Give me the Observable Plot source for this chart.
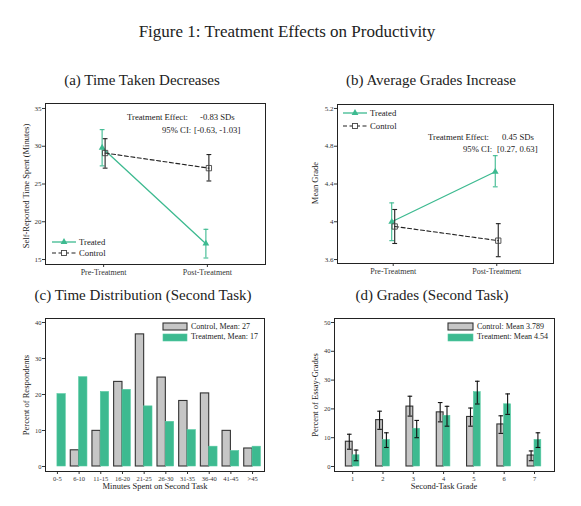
<!DOCTYPE html>
<html><head><meta charset="utf-8">
<script src="https://cdn.jsdelivr.net/npm/d3@7"></script>
<script src="https://cdn.jsdelivr.net/npm/@observablehq/plot@0.6"></script>
<style>
body{margin:0;background:#fff;}
#fig{position:relative;width:581px;height:506px;font-family:"Liberation Serif","Times New Roman",Times,serif;color:#222;overflow:hidden;background:#fff}
.abs{position:absolute;white-space:nowrap;line-height:1}
.panel{position:absolute}
</style></head><body><div id="fig"></div>
<script>
// ---------- data ----------
const phases = ["Pre-Treatment", "Post-Treatment"];

// (a) self-reported time (minutes)
const timeTreatedMean = [29.8, 17.1];
const timeTreatedLo   = [27.4, 15.2];
const timeTreatedHi   = [32.2, 19.0];
const timeControlMean = [29.1, 27.1];
const timeControlLo   = [27.1, 25.4];
const timeControlHi   = [31.0, 28.9];

// (b) mean grade
const gradeTreatedMean = [4.00, 4.53];
const gradeTreatedLo   = [3.80, 4.37];
const gradeTreatedHi   = [4.20, 4.70];
const gradeControlMean = [3.95, 3.80];
const gradeControlLo   = [3.77, 3.63];
const gradeControlHi   = [4.13, 3.98];

// (c) time distribution, second task (% of respondents)
const timeBins = ["0-5","6-10","11-15","16-20","21-25","26-30","31-35","36-40","41-45",">45"];
const distControl   = [0, 4.5, 9.9, 23.5, 36.7, 24.7, 18.2, 20.3, 9.9, 5.0];
const distTreatment = [20.1, 24.8, 20.7, 21.3, 16.7, 12.4, 10.1, 5.5, 4.3, 5.5];

// (d) grades, second task (% of essay-grades)
const gradeLevels  = [1, 2, 3, 4, 5, 6, 7];
const gradesControl     = [8.6, 16.1, 20.8, 18.8, 17.2, 14.6, 3.8];
const gradesControlLo   = [6.0, 12.9, 17.5, 15.5, 14.0, 11.5, 2.0];
const gradesControlHi   = [11.2, 19.2, 24.4, 22.2, 20.3, 17.6, 5.4];
const gradesTreatment   = [3.9, 9.2, 13.1, 17.6, 25.8, 21.6, 9.2];
const gradesTreatmentLo = [2.0, 6.6, 10.0, 14.0, 21.7, 18.1, 6.6];
const gradesTreatmentHi = [5.7, 11.7, 16.0, 20.9, 29.6, 25.2, 11.7];

const yTicksTime  = [15, 20, 25, 30, 35];
const yTicksGrade = [3.6, 4, 4.4, 4.8, 5.2];
const yTicksDist  = [0, 10, 20, 30, 40];
const yTicksEssay = [0, 10, 20, 30, 40, 50];

// ---------- styling ----------
const SERIF = '"Liberation Serif","Times New Roman",Times,serif';
const GREEN = "#3dba90";
const GREY = "#c6c6c6";
const INK = "#222";
const fig = document.getElementById("fig");

function txt(s, x, y, size, anchor = "middle", rotate = 0) {
  const el = document.createElement("div");
  el.className = "abs";
  el.textContent = s;
  el.style.left = x + "px";
  el.style.top = y + "px";
  el.style.fontSize = size + "px";
  const ax = anchor === "start" ? "0" : anchor === "end" ? "-100%" : "-50%";
  el.style.transform = `translate(${ax},-50%)` + (rotate ? ` rotate(${rotate}deg)` : "");
  fig.appendChild(el);
}
function place(node, left, top) {
  const d = document.createElement("div");
  d.className = "panel";
  d.style.left = left + "px";
  d.style.top = top + "px";
  d.appendChild(node);
  fig.appendChild(d);
}
// horizontal cap symbol for error bars (width = 2r)
const capSymbol = {draw(ctx, size) { const w = Math.sqrt(size / Math.PI); ctx.moveTo(-w, 0); ctx.lineTo(w, 0); }};

function rows(mean, lo, hi) {
  return mean.map((m, i) => ({phase: i + 1, mean: m, lo: lo[i], hi: hi[i]}));
}

function linePanel({treated, control, xDomain, yDomain, yTicks, margins}) {
  const errMarks = (data, color, dx) => [
    Plot.ruleX(data, {x: "phase", y1: "lo", y2: "hi", stroke: color, strokeWidth: 1.1, dx}),
    Plot.dot(data, {x: "phase", y: "lo", symbol: capSymbol, r: 2.4, stroke: color, fill: "none", strokeWidth: 1.1, dx}),
    Plot.dot(data, {x: "phase", y: "hi", symbol: capSymbol, r: 2.4, stroke: color, fill: "none", strokeWidth: 1.1, dx})
  ];
  return Plot.plot({
    width: 290, height: 190,
    ...margins,
    x: {domain: xDomain},
    y: {domain: yDomain},
    style: {fontFamily: SERIF, fontSize: "7px", color: "#333", background: "transparent", overflow: "visible"},
    marks: [
      Plot.axisY({ticks: yTicks, tickFormat: d => String(d), tickSize: 3, tickPadding: 1, label: null, fontSize: 7}),
      Plot.axisX({ticks: [1, 2], tickFormat: i => phases[i - 1], tickSize: 3, tickPadding: 1.5, label: null, fontSize: 8}),
      Plot.line(treated, {x: "phase", y: "mean", stroke: GREEN, strokeWidth: 1.3, dx: -1.5}),
      ...errMarks(treated, GREEN, -1.5),
      Plot.dot(treated, {x: "phase", y: "mean", symbol: "triangle", r: 2.5, fill: GREEN, stroke: "none", dx: -1.5}),
      Plot.line(control, {x: "phase", y: "mean", stroke: INK, strokeWidth: 1.1, strokeDasharray: "4,2.5", dx: 1.5}),
      ...errMarks(control, INK, 1.5),
      Plot.dot(control, {x: "phase", y: "mean", symbol: "square", r: 3, fill: "none", stroke: "#444", strokeWidth: 0.9, dx: 1.5}),
      Plot.frame({stroke: INK, strokeWidth: 1})
    ]
  });
}

// ---------- titles ----------
txt("Figure 1:  Treatment Effects on Productivity", 287, 31, 17);
txt("(a) Time Taken Decreases", 142, 80, 15);
txt("(b) Average Grades Increase", 431, 80, 15);
txt("(c) Time Distribution (Second Task)", 143, 294.5, 15);
txt("(d) Grades (Second Task)", 432, 294.5, 15);

// ---------- panel (a) ----------
place(linePanel({
  treated: rows(timeTreatedMean, timeTreatedLo, timeTreatedHi),
  control: rows(timeControlMean, timeControlLo, timeControlHi),
  xDomain: [0.44, 2.56], yDomain: [14.34, 35.66], yTicks: yTicksTime,
  margins: {marginLeft: 45, marginRight: 25, marginTop: 8, marginBottom: 21}
}), 0, 95);
txt("Self-Reported Time Spent (Minutes)", 25.5, 186, 8.5, "middle", -90);
txt("Treatment Effect:", 127, 117, 8.7, "start");
txt("-0.83 SDs", 200, 117, 8.7, "start");
txt("95% CI:", 162, 130, 8.7, "start");
txt("[-0.63, -1.03]", 194, 130, 8.7, "start");

// ---------- panel (b) ----------
place(linePanel({
  treated: rows(gradeTreatedMean, gradeTreatedLo, gradeTreatedHi),
  control: rows(gradeControlMean, gradeControlLo, gradeControlHi),
  xDomain: [0.462, 2.548], yDomain: [3.558, 5.242], yTicks: yTicksGrade,
  margins: {marginLeft: 47, marginRight: 27, marginTop: 9, marginBottom: 22}
}), 290, 95);
txt("Mean Grade", 315, 183, 8.5, "middle", -90);
txt("Treatment Effect:", 428, 137, 8.7, "start");
txt("0.45 SDs", 502, 137, 8.7, "start");
txt("95% CI:", 463, 148.5, 8.7, "start");
txt("[0.27, 0.63]", 497, 148.5, 8.7, "start");

// line legends (a), (b)
function lineKey(x, y, label, treated) {
  const svg = d3.create("svg").attr("width", 26).attr("height", 10)
    .style("position", "absolute").style("left", x + "px").style("top", (y - 5) + "px");
  svg.append("line").attr("x1", 0).attr("x2", 24).attr("y1", 5).attr("y2", 5)
    .attr("stroke", treated ? GREEN : INK).attr("stroke-width", treated ? 1.3 : 1.1)
    .attr("stroke-dasharray", treated ? null : "4,2.5");
  if (treated) svg.append("path").attr("transform", "translate(12,5)")
    .attr("d", d3.symbol(d3.symbolTriangle, Math.PI * 2.5 * 2.5)()).attr("fill", GREEN);
  else svg.append("rect").attr("x", 9.5).attr("y", 2.5).attr("width", 5).attr("height", 5)
    .attr("fill", "#fff").attr("stroke", "#444").attr("stroke-width", 0.9);
  fig.appendChild(svg.node());
  txt(label, x + 27, y, 8.7, "start");
}
lineKey(52, 242, "Treated", true);
lineKey(52, 253, "Control", false);
lineKey(343, 113, "Treated", true);
lineKey(343, 126, "Control", false);

// ---------- panel (c) ----------
const distRows = timeBins.map((b, i) => ({i, control: distControl[i], treatment: distTreatment[i]}));
const HALF_C = 0.385;
place(Plot.plot({
  width: 290, height: 196,
  marginLeft: 45, marginRight: 26, marginTop: 8, marginBottom: 35,
  x: {domain: [-0.55, 9.55]},
  y: {domain: [-1.39, 41.11]},
  style: {fontFamily: SERIF, fontSize: "6.5px", color: "#333", background: "transparent", overflow: "visible"},
  marks: [
    Plot.axisY({ticks: yTicksDist, tickSize: 3, tickPadding: 1, label: null, fontSize: 6.5}),
    Plot.axisX({ticks: d3.range(timeBins.length), tickFormat: i => timeBins[i], tickSize: 3, tickPadding: 1.5, label: null, fontSize: 6.5}),
    Plot.rectY(distRows.filter(d => d.control > 0), {x1: d => d.i - HALF_C, x2: d => d.i, y1: 0, y2: "control", fill: GREY, stroke: "#333", strokeWidth: 1.1}),
    Plot.rectY(distRows, {x1: d => d.i, x2: d => d.i + HALF_C, y1: 0, y2: "treatment", fill: GREEN, stroke: "#52c9a0", strokeWidth: 0.6}),
    Plot.frame({stroke: INK, strokeWidth: 1})
  ]
}), 0, 310);
txt("Percent of Respondents", 25.5, 395, 8.5, "middle", -90);
txt("Minutes Spent on Second Task", 155, 486, 8.5);

// ---------- panel (d) ----------
const essayRows = gradeLevels.map((g, i) => ({
  g, control: gradesControl[i], cLo: gradesControlLo[i], cHi: gradesControlHi[i],
  treatment: gradesTreatment[i], tLo: gradesTreatmentLo[i], tHi: gradesTreatmentHi[i]
}));
const W_D = 0.225;
const errD = (x, lo, hi) => [
  Plot.ruleX(essayRows, {x, y1: lo, y2: hi, stroke: "#111", strokeWidth: 1.1}),
  Plot.dot(essayRows, {x, y: lo, symbol: capSymbol, r: 2.3, stroke: "#111", fill: "none", strokeWidth: 1.1}),
  Plot.dot(essayRows, {x, y: hi, symbol: capSymbol, r: 2.3, stroke: "#111", fill: "none", strokeWidth: 1.1})
];
place(Plot.plot({
  width: 291, height: 196,
  marginLeft: 44, marginRight: 27, marginTop: 8, marginBottom: 35,
  x: {domain: [0.40, 7.66]},
  y: {domain: [-1.74, 51.39]},
  style: {fontFamily: SERIF, fontSize: "6.5px", color: "#333", background: "transparent", overflow: "visible"},
  marks: [
    Plot.axisY({ticks: yTicksEssay, tickSize: 3, tickPadding: 1, label: null, fontSize: 6.5}),
    Plot.axisX({ticks: gradeLevels, tickFormat: d => String(d), tickSize: 3, tickPadding: 1.5, label: null, fontSize: 6.5}),
    Plot.rectY(essayRows, {x1: d => d.g - W_D, x2: "g", y1: 0, y2: "control", fill: GREY, stroke: "#333", strokeWidth: 1.1}),
    Plot.rectY(essayRows, {x1: "g", x2: d => d.g + W_D, y1: 0, y2: "treatment", fill: GREEN, stroke: "#52c9a0", strokeWidth: 0.6}),
    ...errD(d => d.g - W_D / 2, "cLo", "cHi"),
    ...errD(d => d.g + W_D / 2, "tLo", "tHi"),
    Plot.frame({stroke: INK, strokeWidth: 1})
  ]
}), 290, 310);
txt("Percent of Essay-Grades", 315, 395, 8.5, "middle", -90);
txt("Second-Task Grade", 444, 486, 8.5);

// box legends (c), (d)
function boxKey(x, y, w, label, treated) {
  const svg = d3.create("svg").attr("width", w + 2).attr("height", 9)
    .style("position", "absolute").style("left", (x - 1) + "px").style("top", (y - 4.5) + "px");
  svg.append("rect").attr("x", 1).attr("y", 1).attr("width", w).attr("height", 7)
    .attr("fill", treated ? GREEN : GREY).attr("stroke", treated ? "#52c9a0" : "#333")
    .attr("stroke-width", treated ? 0.6 : 1.1);
  fig.appendChild(svg.node());
  txt(label, x + w + 4, y, 8, "start");
}
boxKey(163, 326.5, 24, "Control, Mean: 27", false);
boxKey(163, 337, 24, "Treatment, Mean: 17", true);
boxKey(448, 326.5, 25, "Control: Mean 3.789", false);
boxKey(448, 337, 25, "Treatment: Mean 4.54", true);
</script></body></html>
